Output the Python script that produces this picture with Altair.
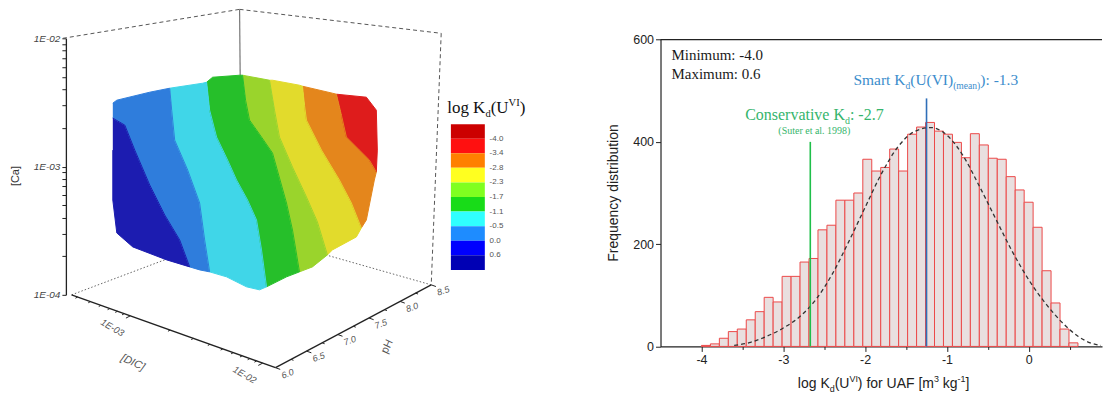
import math

import altair as alt
import pandas as pd

# ---------------------------------------------------------------
# values
# ---------------------------------------------------------------
# right: frequency distribution of log Kd(U(VI)) for UAF
HIST_FIRST_EDGE = -4.0
HIST_BIN_WIDTH = 4.6 / 42
HIST_COUNTS = [2, 5, 16, 29, 34, 52, 68, 96, 87, 137, 137, 165, 172, 228,
               237, 286, 286, 300, 366, 343, 350, 386, 343, 415, 429, 438,
               421, 415, 399, 369, 416, 394, 368, 366, 332, 306, 282, 233,
               148, 85, 34, 7]
FIT_X = [-3.6, -3.4, -3.2, -3.0, -2.8, -2.6, -2.4, -2.2, -2.0, -1.8, -1.6,
         -1.4, -1.2, -1.0, -0.8, -0.6, -0.4, -0.2, 0.0, 0.2, 0.4, 0.6, 0.75,
         0.88]
FIT_Y = [2, 8, 20, 36, 58, 92, 142, 205, 272, 338, 390, 420, 428, 413, 372,
         312, 248, 185, 130, 85, 48, 20, 7, 2]
KD_CONSERVATIVE = -2.67
KD_SMART = -1.25
Y_TICKS = [0, 200, 400, 600]
X_TICKS = [-4, -3.5, -3, -2.5, -2, -1.5, -1, -0.5, 0, 0.5]

# left: 3-D scatter of pH, [DIC] and [Ca] coloured by log Kd(U(VI))
KD_LEVELS = ["-4.0", "-3.4", "-2.8", "-2.3", "-1.7", "-1.1", "-0.5", "0.0", "0.6"]
KD_CLASSES = ["c0", "c1", "c2", "c3", "c4", "c5", "c6", "c7", "c8", "c9"]
KD_COLOURS = ["#cc0000", "#ff1010", "#ff8000", "#ffff20", "#80ff20",
              "#18dc18", "#30ffff", "#1e8cff", "#0000ff", "#0000b4"]
CLOUD_COLOURS = ["#de1c1c", "#e4861c", "#e2db2c", "#9ad42c", "#26bf2a",
                 "#40d6e8", "#2f7ddc", "#1c1cb0"]
PH_TICKS = [6.0, 6.5, 7.0, 7.5, 8.0, 8.5]
PH_MINOR = [6.25, 6.75, 7.25, 7.75, 8.25]
DIC_TICKS = [1e-3, 1e-2]
DIC_MINOR = [4e-4, 5e-4, 6e-4, 7e-4, 8e-4, 9e-4,
             2e-3, 3e-3, 4e-3, 5e-3, 6e-3, 7e-3, 8e-3, 9e-3]
CA_TICKS = [m * 10.0 ** e for e in (-4, -3) for m in range(1, 10)] + [1e-2]

# outline of the coloured point cloud, one polygon per Kd class (screen space)
CLOUD_BANDS = {
    "c9": [(113, 118), (125, 125), (135, 150), (150, 185), (165, 215), (180, 240),
           (190, 267), (167, 260), (133, 247), (117, 233), (113, 200), (113, 150)],
    "c8": [(113, 103), (117, 100), (150, 92), (170, 88), (172, 110), (175, 140),
           (188, 170), (200, 203), (205, 240), (210, 272), (200, 270), (190, 267),
           (180, 240), (165, 215), (150, 185), (135, 150), (125, 125), (113, 118)],
    "c6": [(170, 88), (203, 83), (207, 82), (210, 110), (217, 137), (228, 160),
           (237, 180), (248, 200), (257, 220), (262, 250), (267, 287), (260, 290),
           (247, 287), (227, 277), (210, 272), (205, 240), (200, 203), (188, 170),
           (175, 140), (172, 110)],
    "c5": [(207, 82), (213, 77), (240, 75), (243, 75), (246, 100), (250, 120),
           (262, 137), (273, 153), (280, 178), (287, 203), (293, 230), (300, 272),
           (287, 277), (267, 287), (262, 250), (257, 220), (248, 200), (237, 180),
           (228, 160), (217, 137), (210, 110)],
    "c4": [(243, 75), (270, 80), (275, 110), (280, 137), (293, 167), (307, 197),
           (318, 222), (328, 255), (313, 267), (300, 272), (293, 230), (287, 203),
           (280, 178), (273, 153), (262, 137), (250, 120), (246, 100)],
    "c3": [(270, 80), (273, 80), (300, 85), (303, 86), (305, 105), (307, 120),
           (322, 150), (340, 180), (352, 203), (362, 228), (357, 237), (333, 250),
           (328, 255), (318, 222), (307, 197), (293, 167), (280, 137), (275, 110)],
    "c2": [(303, 86), (333, 93), (337, 94), (342, 115), (347, 137), (360, 150),
           (370, 160), (377, 172), (375, 180), (367, 220), (362, 228), (352, 203),
           (340, 180), (322, 150), (307, 120), (305, 105)],
    "c1": [(337, 94), (367, 97), (377, 110), (378, 150), (377, 172), (370, 160),
           (360, 150), (347, 137), (342, 115)],
}
CLOUD_ORDER = ["c1", "c2", "c3", "c4", "c5", "c6", "c8", "c9"]

# ---------------------------------------------------------------
# layout
# ---------------------------------------------------------------
SANS = "Liberation Sans"
SERIF = "Liberation Serif"

W_SANS = dict(zip(" ()[]-.:0123456789", [278, 333, 333, 278, 278, 333, 278, 278] + [556] * 10))
W_SANS.update(A=667, C=722, D=722, F=611, I=278, K=667, U=722, V=667, a=556,
              b=556, c=500, d=556, e=556, f=278, g=556, i=222, k=500, l=222,
              m=833, n=556, o=556, p=556, q=556, r=333, s=500, t=278, u=556, y=500)
W_SERIF = dict(zip(" ()-.:0123456789", [250, 333, 333, 333, 250, 278] + [500] * 10))
W_SERIF.update(C=667, I=333, K=722, M=889, S=556, U=722, V=722, a=444, c=444,
               d=500, e=444, g=500, i=278, l=278, m=778, n=500, o=500, r=333,
               s=389, t=278, u=500, v=500, x=500)

# whole picture is one view (page x 8..1104, y 8..392); the left panel works
# in screen pixels, the histogram has its own scales squeezed into the right
VIEW_W, VIEW_H = 1096, 384
HIST_RIGHT = -4.5 + (VIEW_W - 653.7) / 82.0
PX = alt.Scale(domain=[8, 8 + VIEW_W], range=[0, VIEW_W], nice=False, zero=False, padding=0)
PY = alt.Scale(domain=[8, 8 + VIEW_H], range=[0, VIEW_H], nice=False, zero=False, padding=0)
HX = alt.Scale(domain=[-4.5, HIST_RIGHT], range=[653.7, VIEW_W], nice=False,
               zero=False, padding=0)
HY = alt.Scale(domain=[0, 600], range=[338.7, 31.3], nice=False, zero=False, padding=0)

GREEN = "#35b56c"
BLUE = "#3b8dcc"


def text_width(s, size, family):
    table = W_SERIF if family == SERIF else W_SANS
    return sum(table.get(ch, 520) for ch in s) * size / 1000.0


def rich_text(pieces, x, y, xs, ys, size, family, colour, align="left"):
    """pieces: (text, relative size, baseline shift in px)"""
    sizes = [size * k for _, k, _ in pieces]
    total = sum(text_width(t, fs, family) for (t, _, _), fs in zip(pieces, sizes))
    pos = {"left": 0.0, "center": -total / 2.0, "right": -total}[align]
    out = []
    for (t, k, shift), fs in zip(pieces, sizes):
        lead = len(t) - len(t.lstrip(" "))
        df = pd.DataFrame({"x": [x], "y": [y], "t": [t.strip(" ")]})
        out.append(
            alt.Chart(df).mark_text(
                align="left", baseline="alphabetic",
                dx=pos + text_width(" " * lead, fs, family), dy=shift,
                font=family, fontSize=fs, color=colour
            ).encode(
                x=alt.X("x:Q", scale=xs, axis=None),
                y=alt.Y("y:Q", scale=ys, axis=None),
                text="t:N"
            )
        )
        pos += text_width(t, fs, family)
    return out


def label(text, x, y, **mark):
    df = pd.DataFrame({"x": [x], "y": [y], "t": [text]})
    return alt.Chart(df).mark_text(**mark).encode(
        x=alt.X("x:Q", scale=PX, axis=None),
        y=alt.Y("y:Q", scale=PY, axis=None),
        text="t:N"
    )


def segments(segs, **mark):
    df = pd.DataFrame([{"x": a[0], "y": a[1], "x2": b[0], "y2": b[1]} for a, b in segs])
    return alt.Chart(df).mark_rule(**mark).encode(
        x=alt.X("x:Q", scale=PX, axis=None),
        y=alt.Y("y:Q", scale=PY, axis=None),
        x2="x2:Q",
        y2="y2:Q"
    )


layers = []

# ---------------- left panel: 3-D box ----------------
corner_tl, corner_tb, corner_tr = (63, 38), (240, 9), (442, 33)
corner_bl, corner_bb, corner_bf, corner_br = (71.7, 295), (242, 231), (276, 368), (432, 285)

layers.append(segments([(corner_tl, corner_tb), (corner_tb, corner_tr), (corner_tr, corner_br)],
                       color="#555", strokeWidth=1, strokeDash=[4, 3]))
layers.append(segments([(corner_bl, corner_bb), (corner_br, corner_bb)],
                       color="#666", strokeWidth=1, strokeDash=[1.5, 2]))
layers.append(segments([(corner_tb, corner_bb)], color="#777", strokeWidth=1.2))

# point cloud
cloud = pd.DataFrame([
    {"band": b, "i": i, "x": p[0], "y": p[1]}
    for b in CLOUD_ORDER for i, p in enumerate(CLOUD_BANDS[b])
])
cloud_colour = alt.Color("band:N", scale=alt.Scale(domain=CLOUD_ORDER, range=CLOUD_COLOURS), legend=None)
layers.append(alt.Chart(cloud).mark_line(filled=True).encode(
    x=alt.X("x:Q", scale=PX, axis=None), y=alt.Y("y:Q", scale=PY, axis=None),
    color=cloud_colour, order="i:Q"
))
layers.append(alt.Chart(cloud).mark_line(strokeWidth=1).encode(
    x=alt.X("x:Q", scale=PX, axis=None), y=alt.Y("y:Q", scale=PY, axis=None),
    color=cloud_colour, order="i:Q"
))

# front axes: [DIC] and pH
layers.append(segments([(corner_bl, corner_bf), (corner_bf, corner_br)], color="#222", strokeWidth=1.3))


def dic_point(v, lo=3.6e-4, hi=1.25e-2):
    t = (math.log10(v) - math.log10(lo)) / (math.log10(hi) - math.log10(lo))
    return (corner_bl[0] + t * (corner_bf[0] - corner_bl[0]),
            corner_bl[1] + t * (corner_bf[1] - corner_bl[1]))


def ph_point(v, lo=6.0, hi=8.5):
    t = (v - lo) / (hi - lo)
    return (corner_bf[0] + t * (corner_br[0] - corner_bf[0]),
            corner_bf[1] + t * (corner_br[1] - corner_bf[1]))


dic_major = [dic_point(v) for v in DIC_TICKS]
dic_minor = [dic_point(v) for v in DIC_MINOR]
ph_major = [ph_point(v) for v in PH_TICKS]
ph_minor = [ph_point(v) for v in PH_MINOR]
layers.append(segments(
    [(p, (p[0] - 4.4, p[1] + 2.3)) for p in dic_major] +
    [(p, (p[0] - 2.2, p[1] + 1.2)) for p in dic_minor] +
    [(p, (p[0] + 4.7, p[1] + 1.7)) for p in ph_major] +
    [(p, (p[0] + 2.4, p[1] + 0.9)) for p in ph_minor],
    color="#222", strokeWidth=1))
for v, p in zip(DIC_TICKS, dic_major):
    layers.append(label("1E-0%d" % round(-math.log10(v)), p[0] - 18, p[1] + 12, angle=30,
                        align="center", baseline="middle", font=SANS, fontSize=9.5,
                        fontStyle="italic", color="#555"))
for v, p in zip(PH_TICKS, ph_major):
    layers.append(label("%.1f" % v, p[0] + 12, p[1] + 6, angle=340, align="center",
                        baseline="middle", font=SANS, fontSize=9, fontStyle="italic",
                        color="#555"))
layers.append(label("[DIC]", 133, 363, angle=25, align="center", baseline="middle",
                    font=SANS, fontSize=11, fontStyle="italic", color="#555"))
layers.append(label("pH", 388, 347, angle=295, align="center", baseline="middle",
                    font=SANS, fontSize=11, color="#555"))
layers.append(label("[Ca]", 16, 176, angle=270, align="center", baseline="middle",
                    font=SANS, fontSize=11, color="#333"))

# [Ca] axis (log)
layers.append(alt.Chart(pd.DataFrame({"ca": CA_TICKS})).mark_point(opacity=0).encode(
    x=alt.value(58),
    y=alt.Y("ca:Q", scale=alt.Scale(type="log", domain=[1e-4, 1e-2], range=[287, 30], nice=False),
            axis=alt.Axis(orient="left", offset=-58, values=CA_TICKS, title=None, grid=False,
                          labelExpr="abs(log(datum.value)/LN10 - round(log(datum.value)/LN10)) < 0.001"
                                    " ? '1E-0' + (-round(log(datum.value)/LN10)) : ''",
                          labelOverlap=False, tickSize=4, labelPadding=2, labelFont=SANS,
                          labelFontSize=10, labelFontStyle="italic", labelColor="#444",
                          domainColor="#222", domainWidth=1.3, tickColor="#222"))
))

# colour bar
cb_top, cb_step = 124.0, 14.6
cbar = pd.DataFrame({
    "cls": KD_CLASSES,
    "y": [cb_top + i * cb_step for i in range(len(KD_CLASSES))],
    "y2": [cb_top + (i + 1) * cb_step for i in range(len(KD_CLASSES))],
    "x": 451.7, "x2": 485.7,
})
layers.append(alt.Chart(cbar).mark_rect().encode(
    x=alt.X("x:Q", scale=PX, axis=None), x2="x2:Q",
    y=alt.Y("y:Q", scale=PY, axis=None), y2="y2:Q",
    color=alt.Color("cls:N", scale=alt.Scale(domain=KD_CLASSES, range=KD_COLOURS), legend=None)
))
cb_labels = pd.DataFrame({"t": KD_LEVELS, "x": 490.5,
                          "y": [cb_top + (i + 1) * cb_step for i in range(len(KD_LEVELS))]})
layers.append(alt.Chart(cb_labels).mark_text(align="left", baseline="middle", font=SANS,
                                             fontSize=8, color="#555").encode(
    x=alt.X("x:Q", scale=PX, axis=None), y=alt.Y("y:Q", scale=PY, axis=None), text="t:N"
))
layers += rich_text([("log K", 1, 0), ("d", 0.62, 4), ("(U", 1, 0), ("VI", 0.62, -7), (")", 1, 0)],
                    448, 113, PX, PY, 17, SERIF, "#111")

# ---------------- right panel: histogram ----------------
edges = [HIST_FIRST_EDGE + i * HIST_BIN_WIDTH for i in range(len(HIST_COUNTS) + 1)]
hist = pd.DataFrame({"lo": edges[:-1], "hi": edges[1:], "n": HIST_COUNTS, "base": 0})
layers.append(alt.Chart(hist).mark_rect(fill="#e9dfdf", stroke="#ec4848", strokeWidth=1).encode(
    x=alt.X("lo:Q", scale=HX,
            axis=alt.Axis(orient="bottom", offset=338.7 - VIEW_H, values=X_TICKS,
                          labelExpr="datum.value % 1 == 0 ? '' + datum.value : ''",
                          title=None, grid=False, labelPadding=2,
                          tickSize={"condition": {"test": "datum.value % 1 == 0", "value": 5},
                                    "value": 3},
                          labelFont=SANS, labelFontSize=12.5, labelColor="#222",
                          domainColor="#222", domainWidth=1.2, tickColor="#222",
                          labelOverlap=False, labelFlush=False)),
    x2="hi:Q",
    y=alt.Y("n:Q", scale=HY,
            axis=alt.Axis(orient="left", offset=-653.7, values=Y_TICKS, title=None,
                          grid=False, tickSize=5, labelPadding=2, labelFont=SANS,
                          labelFontSize=12.5, labelColor="#222", domainColor="#222",
                          domainWidth=1.2, tickColor="#222", labelOverlap=False)),
    y2="base:Q",
))
layers.append(alt.Chart(pd.DataFrame({"x": FIT_X, "y": FIT_Y})).mark_line(
    color="#333", strokeDash=[4, 3], strokeWidth=1.3, interpolate="monotone"
).encode(x=alt.X("x:Q", scale=HX, axis=None), y=alt.Y("y:Q", scale=HY, axis=None)))

layers.append(alt.Chart(pd.DataFrame({"x": [-4.5], "x2": [HIST_RIGHT], "y": [600]})).mark_rule(
    color="#222", strokeWidth=1.2
).encode(x=alt.X("x:Q", scale=HX, axis=None), x2="x2:Q", y=alt.Y("y:Q", scale=HY, axis=None)))

kd_lines = pd.DataFrame({"x": [KD_CONSERVATIVE, KD_SMART], "top": [400, 485], "base": [0, 0],
                         "which": ["conservative", "smart"]})
layers.append(alt.Chart(kd_lines).mark_rule(strokeWidth=1.6).encode(
    x=alt.X("x:Q", scale=HX, axis=None),
    y=alt.Y("top:Q", scale=HY, axis=None), y2="base:Q",
    color=alt.Color("which:N", scale=alt.Scale(domain=["conservative", "smart"],
                                                range=["#1fbf4a", "#2f6fb8"]), legend=None)
))

layers += rich_text([("Minimum: -4.0", 1, 0)], -4.366, 561, HX, HY, 15, SERIF, "#1a1a1a")
layers += rich_text([("Maximum: 0.6", 1, 0)], -4.366, 522, HX, HY, 15, SERIF, "#1a1a1a")
layers += rich_text([("Conservative K", 1, 0), ("d", 0.62, 4), (": -2.7", 1, 0)],
                    -2.62, 442, HX, HY, 16, SERIF, GREEN, align="center")
layers += rich_text([("(Suter et al. 1998)", 1, 0)], -2.62, 415, HX, HY, 10, SERIF, GREEN,
                    align="center")
layers += rich_text([("Smart K", 1, 0), ("d", 0.62, 4), ("(U(VI)", 1, 0), ("(mean)", 0.62, 4),
                     ("): -1.3", 1, 0)], -2.143, 511, HX, HY, 15.5, SERIF, BLUE)

# axis titles
layers.append(label("Frequency distribution", 615, 193, angle=270, align="center",
                    baseline="middle", font=SANS, fontSize=14, color="#222"))
layers += rich_text([("log K", 1, 0), ("d", 0.64, 4), ("(U", 1, 0), ("VI", 0.64, -6),
                     (") for UAF [m", 1, 0), ("3", 0.64, -6), (" kg", 1, 0), ("-1", 0.64, -6),
                     ("]", 1, 0)], 799.3, 388.5, PX, PY, 14, SANS, "#222")

chart = alt.layer(*layers).resolve_scale(
    x="independent", y="independent", color="independent"
).properties(
    width=VIEW_W,
    height=VIEW_H,
    padding=0
).configure_view(
    stroke=None
)

chart.save("out.html", embed_options={"renderer": "svg", "actions": False})
